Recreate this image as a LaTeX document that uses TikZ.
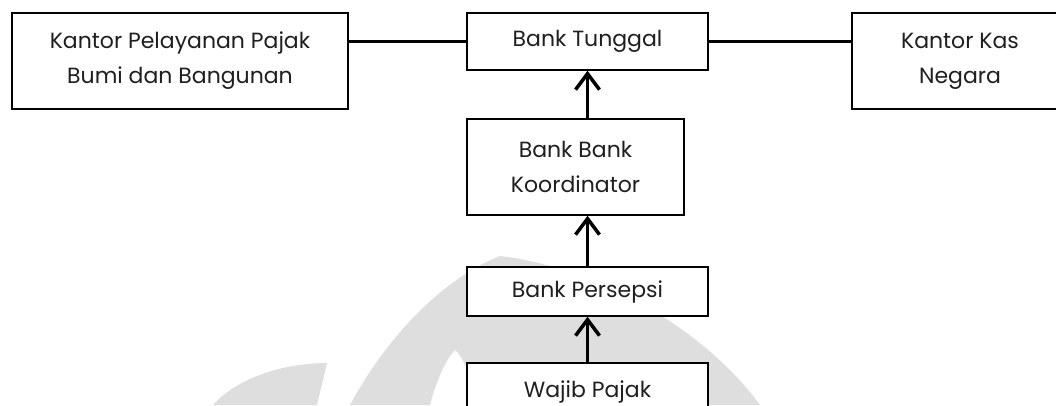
\documentclass[tikz,border=0pt]{standalone}
\usepackage{fontspec}
\setmainfont{Poppins}
\usetikzlibrary{arrows.meta}
\tikzset{
  box/.style={draw=black, line width=1.5pt, fill=white, align=center, inner sep=0pt,
    font=\fontsize{22}{35}\selectfont, text=black!88},
  link/.style={line width=3.5pt},
  arr/.style={line width=3.5pt, -{Straight Barb[length=16pt,width=24pt]}},
  wm/.style={fill=black!13, draw=none}
}
\begin{document}
\begin{tikzpicture}[x=1pt,y=1pt]
\useasboundingbox (0,0) rectangle (1056,-405);
\clip (0,0) rectangle (1056,-405);
% watermark
\fill[wm] (213,-405) .. controls (235,-380) and (280,-363) .. (327,-363) -- (317,-405) -- cycle;
\fill[wm] (350,-405) .. controls (385,-340) and (440,-280) .. (500,-256)
  .. controls (600,-268) and (705,-330) .. (760,-405) -- (480,-405)
  .. controls (470,-375) and (462,-355) .. (455,-350)
  .. controls (445,-360) and (435,-385) .. (430,-405) -- cycle;
% boxes
\node[box, minimum width=336pt, minimum height=96pt] (kpp) at (180,-61) {Kantor Pelayanan Pajak\\Bumi dan Bangunan};
\node[box, minimum width=241pt, minimum height=57pt] (tunggal) at (587.5,-41.5) {Bank Tunggal};
\node[box, minimum width=216pt, minimum height=96pt] (kkn) at (960,-61) {Kantor Kas\\Negara};
\node[box, minimum width=217pt, minimum height=96pt] (koord) at (575.5,-167) {Bank Bank\\Koordinator};
\node[box, minimum width=241pt, minimum height=49pt] (persepsi) at (587.5,-291.5) {Bank Persepsi};
\node[box, minimum width=241pt, minimum height=57pt] (wajib) at (587.5,-391.5) {Wajib Pajak};
% connectors
\draw[link] (tunggal.west -| kpp.east) -- (tunggal.west);
\draw[link] (tunggal.east) -- (tunggal.east -| kkn.west);
\draw[arr] (koord.north -| tunggal.south) -- (tunggal.south);
\draw[arr] (persepsi.north) -- (persepsi.north |- koord.south);
\draw[arr] (wajib.north) -- (persepsi.south);
\end{tikzpicture}
\end{document}
